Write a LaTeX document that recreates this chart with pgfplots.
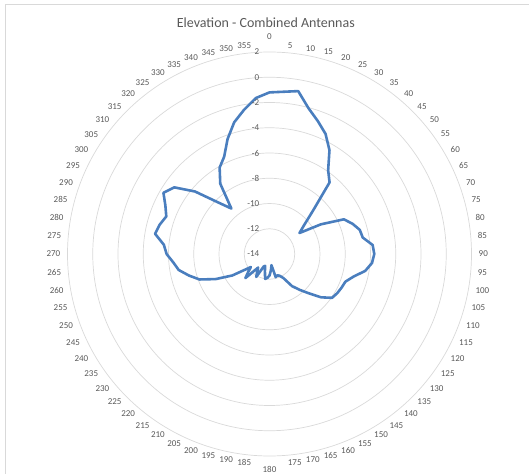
\documentclass[border=0pt]{standalone}
\usepackage{fontspec}
\setmainfont{Carlito}
\usepackage{pgfplots}
\pgfplotsset{compat=1.18}
\usepgfplotslibrary{polar}

\definecolor{series}{RGB}{74,126,190}
\definecolor{gridgray}{RGB}{217,217,217}
\definecolor{labelgray}{RGB}{89,89,89}

\begin{document}
\begin{tikzpicture}[x=1bp,y=1bp]
  % page = 529 x 474 px, circle centre at (269.5,254) px from top left
  \path[use as bounding box] (-269.5,-220) rectangle (259.5,254);
  % chart area border: only its top and left sides fall inside the picture
  \draw[gridgray] (-264.5,-220) -- (-264.5,250) -- (259.5,250);

  \begin{polaraxis}[
      at={(0,0)}, anchor=center,
      scale only axis, width=404bp, height=404bp,
      xmin=0, xmax=360, ymin=0, ymax=16,
      xtick=\empty,
      ytick={2,4,...,14}, yticklabels={},
      major tick length=0pt,
      ymajorgrids,
      grid style={gridgray, line width=0.7pt},
      x axis line style={gridgray, line width=0.7pt},
      y axis line style={draw=none},
    ]
    % a = bearing in degrees (clockwise from top), v = value (-14 at centre)
    \addplot[series, line width=2.6pt, line join=round,
             x filter/.expression={90-x}, y filter/.expression={y+14}]
      table[x=a, y=v] {
a   v
0   -1.2
5   -1.1
10  -0.9
15  -2.05
20  -2.8
25  -3.5
30  -4.5
35  -5.9
40  -6.6
45  -9.1
50  -10.4
55  -11.1
60  -9.3
65  -7.5
70  -7.0
75  -6.6
80  -6.5
85  -5.8
90  -5.7
95  -5.85
100 -6.3
105 -7.1
110 -7.6
115 -7.7
120 -7.8
125 -7.95
130 -8.66
135 -9.6
140 -10.3
145 -10.9
150 -11.8
155 -12.1
160 -12.2
165 -12.1
170 -13.1
175 -12.7
180 -12.3
185 -12.1
190 -12.0
195 -12.6
200 -13.0
205 -12.9
210 -11.9
215 -12.3
220 -12.6
225 -11.3
230 -11.8
235 -12.2
240 -10.6
245 -9.3
250 -8.1
255 -7.4
260 -6.7
265 -6.35
270 -5.85
275 -5.6
280 -4.8
285 -5.0
290 -5.3
295 -4.9
300 -4.3
305 -4.8
310 -6.3
315 -8.2
320 -9.3
325 -7.2
330 -6.1
335 -5.5
340 -4.3
345 -3.2
350 -2.4
355 -1.6
360 -1.2
      };
  \end{polaraxis}

  % title
  \node[text=labelgray, font=\fontsize{14bp}{17bp}\selectfont, inner sep=0pt]
    at (-3.7,231.3) {Elevation - Combined Antennas};

  % radial value labels along the top
  \foreach \v in {-14,-12,...,2}
    \node[anchor=east, inner sep=0pt, text=labelgray, font=\fontsize{9bp}{11bp}\selectfont]
      at (-10,{(\v+14)*12.625}) {\v};

  % category labels round the circle
  \node[anchor=south, inner sep=0pt, text=labelgray, font=\fontsize{9bp}{11bp}\selectfont]
    at (90:214bp) {0};
  \node[anchor=north, inner sep=0pt, text=labelgray, font=\fontsize{9bp}{11bp}\selectfont]
    at (-90:212bp) {180};
  \foreach \a in {5,10,...,175}
    \node[anchor=west, inner sep=0pt, text=labelgray, font=\fontsize{9bp}{11bp}\selectfont]
      at ({90-\a}:209bp) {\a};
  \foreach \a in {185,190,...,355}
    \node[anchor=east, inner sep=0pt, text=labelgray, font=\fontsize{9bp}{11bp}\selectfont]
      at ({90-\a}:209bp) {\a};
\end{tikzpicture}
\end{document}
